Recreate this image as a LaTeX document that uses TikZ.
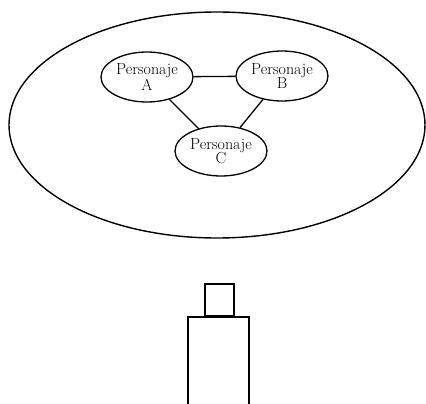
\documentclass[tikz,border=0pt]{standalone}
\usepackage{tikz}
\usetikzlibrary{shapes.geometric}

\begin{document}
\begin{tikzpicture}[
            x = 1pt, y = -1pt,
            line width = 1.3pt,
            personaje/.style = {
                draw, ellipse,
                align=center,
                inner xsep = -6pt, inner ysep = 0pt,
                minimum width = 92pt,
                minimum height = 50pt,
                font = \fontsize{16}{14.5}\selectfont,
            },
            grupo/.style = {
                draw, ellipse,
                line width = 1.4pt,
                minimum width = 416pt,
                minimum height = 226pt,
            },
        ]

        \useasboundingbox (0,0) rectangle (426,404);

        % Grupo
        \node[grupo] (grupo) at (217,125) {};

        % Personajes
        \node[personaje] (pers_a) at (147,77) {Personaje \\ A};
        \node[personaje] (pers_b) at (282,76) {Personaje \\ B};
        \node[personaje] (pers_c) at (221,151) {Personaje \\ C};

        % Relaciones
        \path
        [
            -
        ]
            (pers_a) edge (pers_b)
            (pers_a) edge (pers_c)
            (pers_b) edge (pers_c);

        % Botella
        \draw (205,316) rectangle (234,284);
        \draw (188,404) -- (188,317) -- (249,317) -- (249,404);

    \end{tikzpicture}
\end{document}
